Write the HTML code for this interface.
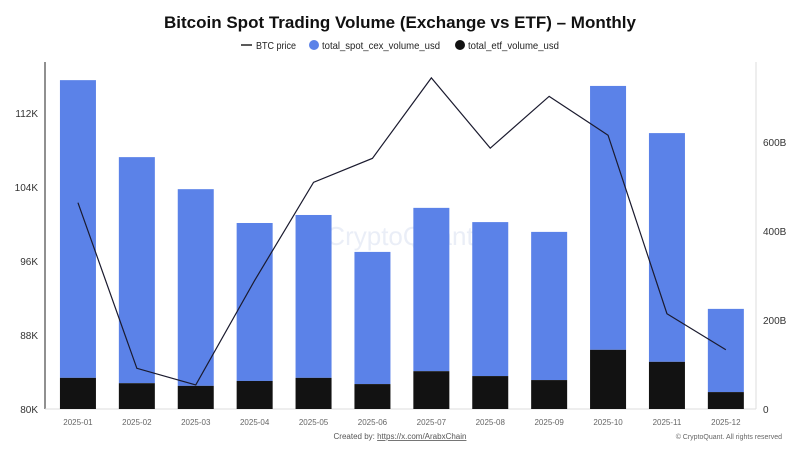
<!DOCTYPE html>
<html><head><meta charset="utf-8"><style>
body{margin:0;background:#fff;font-family:"Liberation Sans",sans-serif}
svg text{font-family:"Liberation Sans",sans-serif}
</style></head><body>
<svg width="800" height="450" xmlns="http://www.w3.org/2000/svg">
<text x="400" y="28" text-anchor="middle" font-size="17" font-weight="bold" fill="#111">Bitcoin Spot Trading Volume (Exchange vs ETF) – Monthly</text>
<g font-size="10.5" fill="#222">
<line x1="241" y1="45" x2="252" y2="45" stroke="#222" stroke-width="1.5"/>
<text x="256" y="49" textLength="40" lengthAdjust="spacingAndGlyphs">BTC price</text>
<circle cx="314" cy="45" r="5" fill="#5b82e8"/>
<text x="322" y="49" textLength="118" lengthAdjust="spacingAndGlyphs">total_spot_cex_volume_usd</text>
<circle cx="460" cy="45" r="5" fill="#111"/>
<text x="468" y="49" textLength="91" lengthAdjust="spacingAndGlyphs">total_etf_volume_usd</text>
</g>
<text x="400" y="245" text-anchor="middle" font-size="26" fill="#dde3f2" opacity="0.6">CryptoQuant</text>
<g id="plot"></g>
<text x="400" y="439" text-anchor="middle" font-size="8" fill="#555">Created by: <tspan text-decoration="underline">https://x.com/ArabxChain</tspan></text>
<text x="782" y="439" text-anchor="end" font-size="7" fill="#666">© CryptoQuant. All rights reserved</text>
</svg>
<script>
const months=["2025-01","2025-02","2025-03","2025-04","2025-05","2025-06","2025-07","2025-08","2025-09","2025-10","2025-11","2025-12"];
const cexVolume=[669,508,442,355,366,297,367,346,333,593,514,187];
const etfVolume=[70,58,52,63,70,56,85,74,65,133,106,38];
const btcPrice=[102.3,84.4,82.6,93.9,104.5,107.1,115.8,108.2,113.8,109.6,90.3,86.4];
const leftTicks=[80,88,96,104,112];
const rightTicks=[0,200,400,600];
const NS="http://www.w3.org/2000/svg";
const g=document.getElementById('plot');
const baseY=409,x0=48.5,step=58.9,bw=36;
const xc=i=>x0+step*(i+0.5);
const yL=v=>baseY-(v-80)*9.25;
const yR=v=>baseY-v*0.445;
function mk(t,a){const e=document.createElementNS(NS,t);for(const k in a)e.setAttribute(k,a[k]);g.appendChild(e);return e;}
let e;
e=mk('line',{x1:45,y1:62,x2:45,y2:baseY,stroke:'#222','stroke-width':1});


e=mk('line',{x1:756,y1:62,x2:756,y2:baseY,stroke:'#ddd','stroke-width':1});


e=mk('line',{x1:45,y1:baseY,x2:756,y2:baseY,stroke:'#ddd','stroke-width':1});


leftTicks.forEach(v=>{e=mk('text',{x:38,y:yL(v)+4,'text-anchor':'end','font-size':10,fill:'#333'});e.textContent=v+'K';

});
rightTicks.forEach(v=>{e=mk('text',{x:763,y:yR(v)+4,'font-size':10,fill:'#333'});e.textContent=v===0?'0':v+'B';

});
months.forEach((m,i)=>{
const tot=cexVolume[i]+etfVolume[i];
e=mk('rect',{x:xc(i)-bw/2,y:yR(tot),width:bw,height:yR(etfVolume[i])-yR(tot),fill:'#5b82e8'});


e=mk('rect',{x:xc(i)-bw/2,y:yR(etfVolume[i]),width:bw,height:baseY-yR(etfVolume[i]),fill:'#121212'});


e=mk('text',{x:xc(i),y:425,'text-anchor':'middle','font-size':8,fill:'#666'});e.textContent=m;


});
e=mk('polyline',{points:btcPrice.map((v,i)=>xc(i)+','+yL(v)).join(' '),fill:'none',stroke:'#1a1a2e','stroke-width':1.2});


</script>
</body></html>
